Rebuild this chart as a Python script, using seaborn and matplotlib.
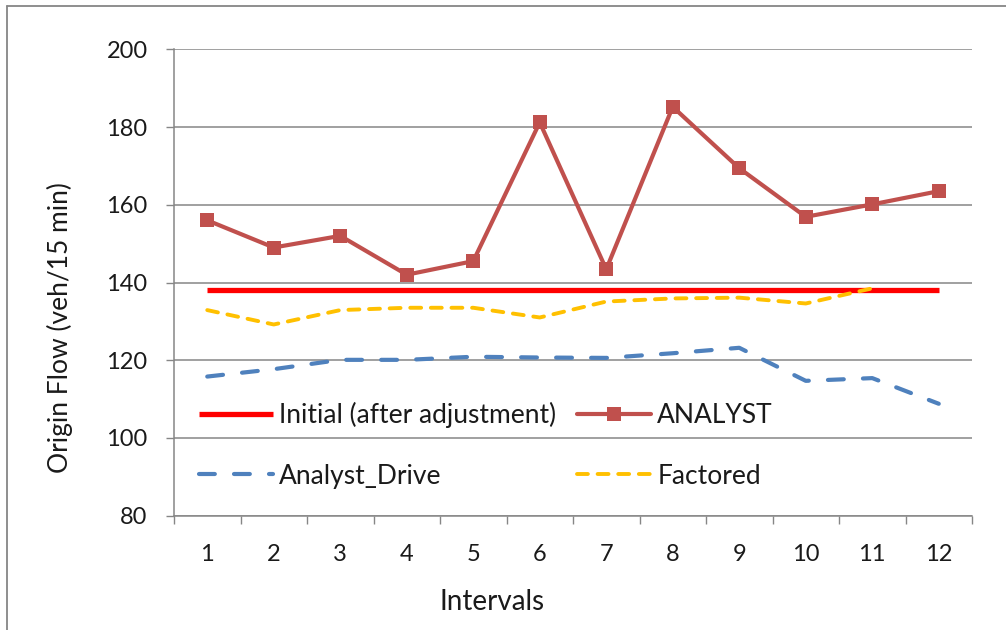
import numpy as np
import pandas as pd
import matplotlib
matplotlib.use("Agg")
import matplotlib.pyplot as plt
from matplotlib.lines import Line2D
import seaborn as sns

# ---- data ----
intervals = list(range(1, 13))
initial = [138] * 12
analyst = [156, 149, 152, 142, 145.5, 181.2, 143.4, 185.2, 169.4, 156.9, 160.1, 163.5]
analyst_drive = [115.8, 117.7, 120.1, 120.1, 120.9, 120.7, 120.6, 121.8, 123.2, 114.7, 115.4, 108.8]
factored = [132.9, 129.2, 132.9, 133.5, 133.5, 131.0, 135.1, 135.9, 136.1, 134.6, 138.5, np.nan]
y_ticks = [80, 100, 120, 140, 160, 180, 200]

df = pd.DataFrame({
    "Interval": intervals,
    "Initial": initial,
    "ANALYST": analyst,
    "Analyst_Drive": analyst_drive,
    "Factored": factored,
})

sns.set_theme(style="white")
plt.rcParams["font.family"] = ["Lato", "DejaVu Sans"]

W, H = 1006, 630
fig = plt.figure(figsize=(W / 100, H / 100), dpi=100)
x0, x1, ytop, ybot = 174, 972, 49.3, 515.7
ax = fig.add_axes([x0 / W, 1 - ybot / H, (x1 - x0) / W, (ybot - ytop) / H])

gray = "#868686"
txt = "#1a1a1a"

sns.lineplot(data=df, x="Interval", y="Initial", ax=ax, color="#FF0000", lw=3.8,
             solid_capstyle="butt", label="Initial (after adjustment)", zorder=3)
sns.lineplot(data=df, x="Interval", y="ANALYST", ax=ax, color="#C0504D", lw=3,
             marker="s", markersize=10.5, markeredgewidth=0, label="ANALYST", zorder=4)
sns.lineplot(data=df, x="Interval", y="Analyst_Drive", ax=ax, color="#4F81BD", lw=3,
             linestyle=(0, (3.8, 4.6)), dash_capstyle="round", label="Analyst_Drive", zorder=3)
sns.lineplot(data=df.dropna(), x="Interval", y="Factored", ax=ax, color="#FFC000", lw=2.8,
             linestyle=(0, (2.8, 2.5)), dash_capstyle="round", label="Factored", zorder=5)

ax.set_xlim(0.5, 12.5)
ax.set_ylim(80, 200)
ax.set_yticks(y_ticks)
ax.set_xticks(intervals)
ax.set_xticks(np.arange(0.5, 13, 1), minor=True)
ax.set_xticklabels([str(i) for i in intervals])

ax.yaxis.grid(True, color=gray, lw=1.1)
ax.set_axisbelow(True)
for s in ["top", "right"]:
    ax.spines[s].set_visible(False)
for s in ["left", "bottom"]:
    ax.spines[s].set_color(gray)
    ax.spines[s].set_linewidth(1.1)

ax.tick_params(axis="y", left=True, length=6, width=1, color=gray, pad=13,
               labelsize=17, labelcolor=txt)
ax.tick_params(axis="x", which="major", bottom=True, length=0, pad=20.5,
               labelsize=17, labelcolor=txt)
ax.tick_params(axis="x", which="minor", bottom=True, length=6, width=1, color=gray)

ax.set_xlabel("Intervals", fontsize=20, color=txt)
ax.set_ylabel("Origin Flow (veh/15 min)", fontsize=19, color=txt)
ax.xaxis.set_label_coords((492 - x0) / (x1 - x0), (ybot - 589) / (ybot - ytop))
ax.yaxis.set_label_coords((73 - x0) / (x1 - x0), (ybot - 328) / (ybot - ytop))

fs = 19
fpx = fs * 100 / 72
handles, labels = ax.get_legend_handles_labels()
order = [0, 2, 1, 3]
ax.legend([handles[i] for i in order], [labels[i] for i in order],
          loc="upper left", bbox_to_anchor=((199 - x0) / (x1 - x0), (ybot - 402) / (ybot - ytop)),
          ncol=2, frameon=False, fontsize=fs, handlelength=74 / fpx, handletextpad=6 / fpx,
          columnspacing=21 / fpx, labelspacing=(62 - fpx) / fpx, borderpad=0, borderaxespad=0,
          labelcolor=txt)

# outer chart border (left and top visible)
fig.add_artist(Line2D([7 / W, 7 / W], [0, 1 - 6 / H], color=gray, lw=1.3, transform=fig.transFigure))
fig.add_artist(Line2D([7 / W, 1], [1 - 6 / H, 1 - 6 / H], color=gray, lw=1.3, transform=fig.transFigure))

fig.savefig("out.png", dpi=100)
